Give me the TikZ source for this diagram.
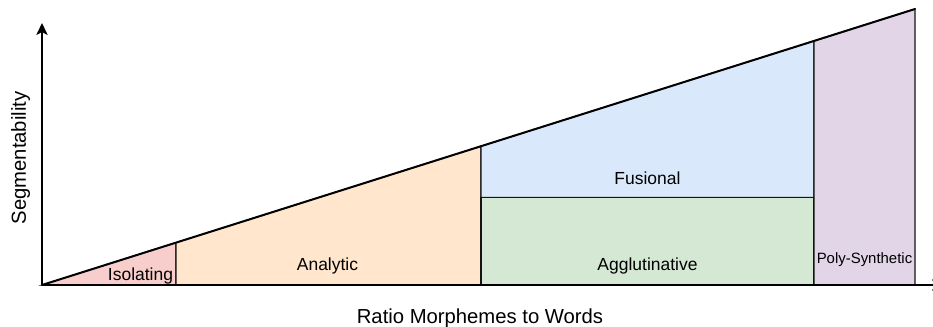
\documentclass[tikz,border=0pt]{standalone}
\usepackage{fontspec}
\setmainfont{Liberation Sans}
\usetikzlibrary{arrows.meta}

\definecolor{isofill}{HTML}{F8CECC}
\definecolor{anafill}{HTML}{FFE6CC}
\definecolor{fusfill}{HTML}{DAE8FC}
\definecolor{aggfill}{HTML}{D5E8D4}
\definecolor{polyfill}{HTML}{E1D5E7}
\definecolor{inkline}{HTML}{141414}

\tikzset{
  region/.style={draw=inkline, line width=0.8pt, line join=miter},
  axisline/.style={draw=black, line width=1.1pt, -{Stealth[length=9pt, width=8.5pt, inset=2.2pt]}},
  slope/.style={draw=black, line width=1.5pt, line cap=round},
  typelabel/.style={inner sep=0pt, anchor=base, font=\fontsize{13.1pt}{15pt}\selectfont},
  smalllabel/.style={inner sep=0pt, anchor=base, font=\fontsize{11.2pt}{13pt}\selectfont},
  axislabel/.style={inner sep=0pt, anchor=base, font=\fontsize{15.2pt}{18pt}\selectfont},
}

\begin{document}
\begin{tikzpicture}[x=0.75pt, y=-0.75pt]
  \useasboundingbox (0,0) rectangle (933,326);

  % key points along the base and the rising edge
  \coordinate (O)   at (42,285);
  \coordinate (b1)  at (176,285);
  \coordinate (t1)  at (176,242.6);
  \coordinate (b2)  at (481,285);
  \coordinate (t2)  at (481,146.2);
  \coordinate (m2)  at (481,197.3);
  \coordinate (b3)  at (814,285);
  \coordinate (t3)  at (814,41);
  \coordinate (m3)  at (814,197.3);
  \coordinate (b4)  at (915,285);
  \coordinate (t4)  at (915,9);
  \coordinate (ytip) at (42,23);
  \coordinate (xtip) at (944,285);

  % language-type regions
  \path[region, fill=isofill]  (O) -- (t1) -- (b1) -- cycle;
  \path[region, fill=anafill]  (b1) -- (t1) -- (t2) -- (b2) -- cycle;
  \path[region, fill=fusfill]  (m2) -- (t2) -- (t3) -- (m3) -- cycle;
  \path[region, fill=aggfill]  (b2) -- (m2) -- (m3) -- (b3) -- cycle;
  \path[region, fill=polyfill] (b3) -- (t3) -- (t4) -- (b4) -- cycle;

  % rising edge
  \draw[slope] (O) -- (t4);

  % axes
  \draw[axisline] (O) -- (ytip);
  \draw[axisline] (O) -- (xtip);

  % labels
  \node[typelabel] (iso)  at (140.5,280.5) {Isolating};
  \node[typelabel] (ana)  at (327.5,270.7) {Analytic};
  \node[typelabel] (agg)  at (647.5,270.7) {Agglutinative};
  \node[typelabel] (fus)  at (647.5,184.3) {Fusional};
  \node[smalllabel] (poly) at (864.5,263.3) {Poly-Synthetic};
  \node[axislabel] (xlab) at (480,323.3) {Ratio Morphemes to Words};
  \node[axislabel, rotate=90] (ylab) at (26,158) {Segmentability};
\end{tikzpicture}
\end{document}
